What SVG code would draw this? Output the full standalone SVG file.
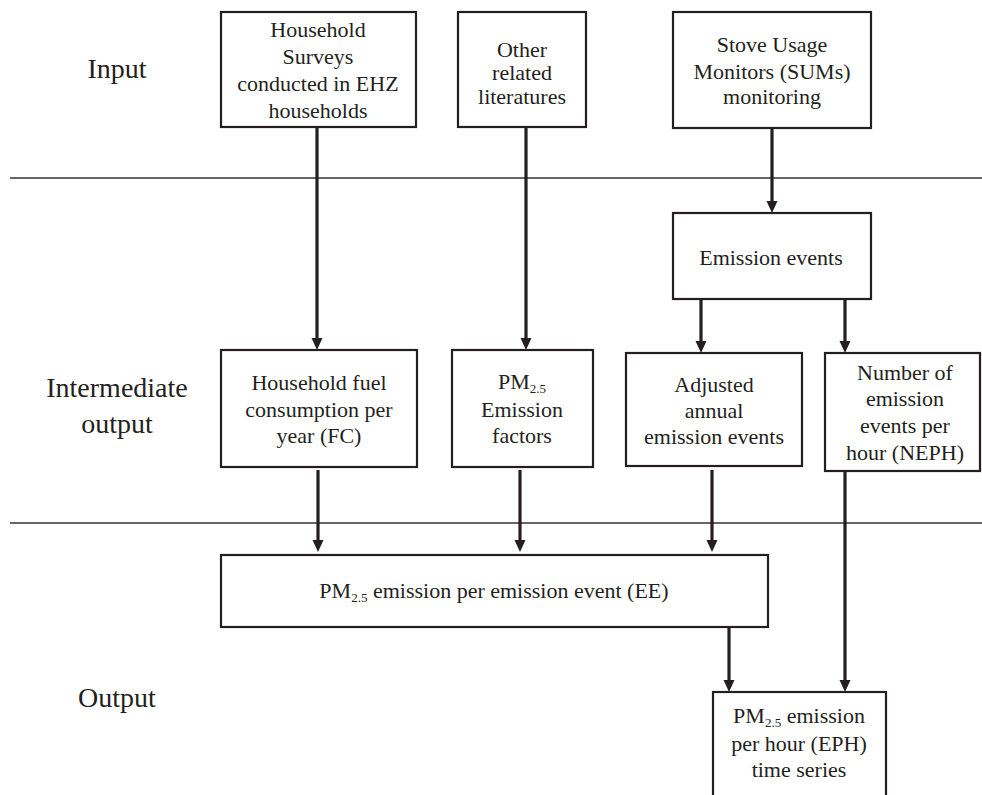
<svg xmlns="http://www.w3.org/2000/svg" width="982" height="795" viewBox="0 0 982 795">
<style>
  text { font-family: "Liberation Serif", "Times New Roman", serif; fill: #231f20; }
  .lbl { font-size: 28px; text-anchor: middle; }
  .t { font-size: 22px; text-anchor: middle; }
  .sub { font-size: 13px; }
  .box { fill: #ffffff; stroke: #231f20; stroke-width: 2.2; }
  .sep { stroke: #333333; stroke-width: 1.6; }
  .arr { stroke: #231f20; stroke-width: 3.2; fill: none; marker-end: url(#ah); }
</style>
<defs>
  <marker id="ah" markerUnits="userSpaceOnUse" markerWidth="12" markerHeight="12" refX="0" refY="6" orient="auto">
    <path d="M0,0.5 L12,6 L0,11.5 z" fill="#231f20"/>
  </marker>
</defs>
<rect width="982" height="795" fill="#ffffff"/>

<g id="separators">
  <line class="sep" x1="10" y1="178" x2="982" y2="178"/>
  <line class="sep" x1="10" y1="523" x2="982" y2="523"/>
</g>

<g id="labels">
  <text class="lbl" x="117" y="78">Input</text>
  <text class="lbl" x="117" y="397">Intermediate</text>
  <text class="lbl" x="117" y="433">output</text>
  <text class="lbl" x="117" y="707">Output</text>
</g>

<g id="connectors">
  <line class="arr" x1="317" y1="127" x2="317" y2="338"/>
  <line class="arr" x1="526" y1="127" x2="526" y2="338"/>
  <line class="arr" x1="772" y1="128" x2="772" y2="201"/>
  <line class="arr" x1="701" y1="299" x2="701" y2="341"/>
  <line class="arr" x1="845" y1="299" x2="845" y2="341"/>
  <line class="arr" x1="318" y1="470" x2="318" y2="540"/>
  <line class="arr" x1="520" y1="470" x2="520" y2="540"/>
  <line class="arr" x1="712" y1="470" x2="712" y2="540"/>
  <line class="arr" x1="729" y1="627" x2="729" y2="680"/>
  <line class="arr" x1="845" y1="471" x2="845" y2="680"/>
</g>

<g id="household-surveys">
  <rect class="box" x="221" y="12" width="195" height="115"/>
  <text class="t" x="318" y="37">Household</text>
  <text class="t" x="318" y="64">Surveys</text>
  <text class="t" x="318" y="91">conducted  in EHZ</text>
  <text class="t" x="318" y="118">households</text>
</g>

<g id="other-literatures">
  <rect class="box" x="458" y="12" width="128" height="115"/>
  <text class="t" x="522" y="57">Other</text>
  <text class="t" x="522" y="80">related</text>
  <text class="t" x="522" y="104">literatures</text>
</g>

<g id="sums">
  <rect class="box" x="673" y="12" width="198" height="116"/>
  <text class="t" x="772" y="52">Stove Usage</text>
  <text class="t" x="772" y="79">Monitors (SUMs)</text>
  <text class="t" x="772" y="104">monitoring</text>
</g>

<g id="emission-events">
  <rect class="box" x="673" y="213" width="198" height="86"/>
  <text class="t" x="771" y="265">Emission  events</text>
</g>

<g id="fuel-consumption">
  <rect class="box" x="221" y="350" width="196" height="117"/>
  <text class="t" x="319" y="390">Household fuel</text>
  <text class="t" x="319" y="417">consumption per</text>
  <text class="t" x="319" y="443">year (FC)</text>
</g>

<g id="emission-factors">
  <rect class="box" x="452" y="350" width="141" height="117"/>
  <text class="t" x="522" y="389">PM<tspan class="sub" dy="4">2.5</tspan></text>
  <text class="t" x="522" y="417">Emission</text>
  <text class="t" x="522" y="443">factors</text>
</g>

<g id="adjusted-events">
  <rect class="box" x="626" y="353" width="176" height="113"/>
  <text class="t" x="714" y="392">Adjusted</text>
  <text class="t" x="714" y="418">annual</text>
  <text class="t" x="714" y="444">emission  events</text>
</g>

<g id="neph">
  <rect class="box" x="825" y="353" width="155" height="118"/>
  <text class="t" x="905" y="380">Number of</text>
  <text class="t" x="905" y="406">emission</text>
  <text class="t" x="905" y="433">events per</text>
  <text class="t" x="905" y="460">hour (NEPH)</text>
</g>

<g id="ee">
  <rect class="box" x="221" y="555" width="547" height="72"/>
  <text class="t" x="494" y="598">PM<tspan class="sub" dy="4">2.5</tspan><tspan dy="-4"> emission per emission event (EE)</tspan></text>
</g>

<g id="eph">
  <rect class="box" x="713" y="692" width="173" height="120"/>
  <text class="t" x="799" y="723">PM<tspan class="sub" dy="4">2.5</tspan><tspan dy="-4"> emission</tspan></text>
  <text class="t" x="799" y="751">per hour (EPH)</text>
  <text class="t" x="799" y="777">time  series</text>
</g>
</svg>
